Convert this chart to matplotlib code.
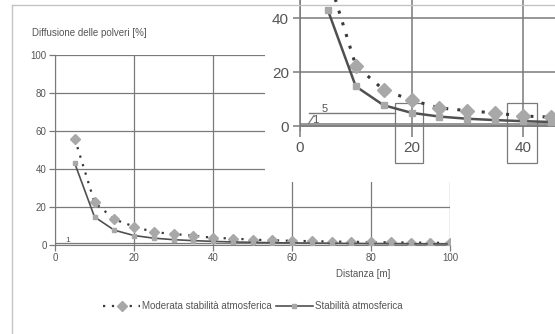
import matplotlib
matplotlib.use('Agg')
import matplotlib.pyplot as plt
from matplotlib.lines import Line2D
from matplotlib.patches import Rectangle
import numpy as np

plt.rcParams['font.family'] = ['Liberation Sans', 'DejaVu Sans']

# Data
distanza = [5, 10, 15, 20, 25, 30, 35, 40, 45, 50, 55, 60, 65, 70, 75, 80, 85, 90, 95, 100]
moderata = [56, 22.5, 13.5, 9.7, 6.8, 5.8, 4.9, 3.8, 3.4, 2.8, 2.5, 2.2, 2.0, 1.8, 1.7, 1.5, 1.4, 1.3, 1.2, 1.1]
stabile = [43, 14.8, 7.8, 5.0, 3.6, 2.8, 2.3, 1.9, 1.6, 1.4, 1.2, 1.1, 1.0, 0.9, 0.8, 0.75, 0.7, 0.65, 0.6, 0.55]
main_xticks = [0, 20, 40, 60, 80, 100]
main_yticks = [0, 20, 40, 60, 80, 100]
inset_ticks = [0, 20, 40]
soglie = [1, 5]

W, H = 555, 334
grid_c = '#7a7a7a'
text_c = '#555555'
dot_c = '#3a3a3a'
mark_c = '#a8a8a8'
line_c = '#505050'

fig = plt.figure(figsize=(W / 100, H / 100), dpi=100)
fig.patch.set_facecolor('white')

def box(x0, y0, x1, y1):
    # pixel box -> figure fraction
    return [x0 / W, 1 - y1 / H, (x1 - x0) / W, (y1 - y0) / H]

# ---- main chart
ax = fig.add_axes(box(55, 55, 450, 245))
ax.set_xlim(0, 100)
ax.set_ylim(0, 100)
ax.set_xticks(main_xticks)
ax.set_yticks(main_yticks)
ax.grid(True, color=grid_c, lw=0.9)
for s in ['top', 'right']:
    ax.spines[s].set_visible(False)
for s in ['left', 'bottom']:
    ax.spines[s].set_color(grid_c)
ax.tick_params(direction='out', length=4, width=0.9, color=grid_c, labelsize=7, labelcolor=text_c, pad=2)
ax.axhline(1, color=grid_c, lw=0.9)
ax.text(2.5, 1.8, '1', fontsize=6, color=text_c)
ax.plot(distanza, moderata, ls=(0, (1, 3)), lw=1.6, color=dot_c, marker='D', ms=5, mfc=mark_c, mec=mark_c, zorder=3)
ax.plot(distanza, stabile, ls='-', lw=1.2, color=line_c, marker='s', ms=3.5, mfc=mark_c, mec=mark_c, zorder=3)
ax.text(0.78, -0.155, 'Distanza [m]', transform=ax.transAxes, ha='center', va='center', fontsize=7, color=text_c)
fig.text(32 / W, 1 - 33 / H, 'Diffusione delle polveri [%]', fontsize=7, color=text_c, va='center')

# legend
handles = [
    Line2D([], [], ls=(0, (1, 3)), lw=1.6, color=dot_c, marker='D', ms=5, mfc=mark_c, mec=mark_c),
    Line2D([], [], ls='-', lw=1.2, color=line_c, marker='s', ms=3.5, mfc=mark_c, mec=mark_c),
]
fig.legend(handles, ['Moderata stabilità atmosferica', 'Stabilità atmosferica'],
           loc='center', bbox_to_anchor=(253 / W, 1 - 306 / H), ncol=2, frameon=False,
           fontsize=7, labelcolor=text_c, handlelength=3.8, handletextpad=0.2, columnspacing=0.4)

# ---- white cover behind the inset
bg = fig.add_axes(box(265, 0, 555, 182))
bg.set_facecolor('white')
bg.axis('off')
bg.add_patch(Rectangle((0, 0), 1, 1, transform=bg.transAxes, color='white'))

# ---- inset (zoom on first 45 m)
ins = fig.add_axes(box(300, 0, 555, 130))
px_x = 223 / 40.0
px_y = 54 / 20.0
ins.set_xlim(0, 255 / px_x)
ins.set_ylim(-(130 - 126.3) / px_y, 126.3 / px_y)
ins.set_facecolor('white')
ins.set_xticks(inset_ticks)
ins.set_yticks(inset_ticks)
ins.grid(True, color=grid_c, lw=1.1)
for s in ['top', 'right', 'bottom']:
    ins.spines[s].set_visible(False)
ins.spines['left'].set_color(grid_c)
ins.spines['left'].set_linewidth(1.1)
ins.tick_params(direction='out', length=5, width=1.1, color=grid_c, labelsize=11, labelcolor=text_c, pad=3)
ins.axhline(0, color=grid_c, lw=1.1)
ins.axhline(soglie[0], color=grid_c, lw=1.1)
ins.plot([1.6, 17], [soglie[1], soglie[1]], color=grid_c, lw=1.0)
ins.plot([1.6, 2.5], [1.2, 4.0], color=grid_c, lw=0.9)
ins.text(2.1, 1.4, '1', fontsize=8, color=text_c)
ins.text(3.9, 5.3, '5', fontsize=8, color=text_c)
ins.plot(distanza, moderata, ls=(0, (1, 3)), lw=2.2, color=dot_c, marker='D', ms=7, mfc=mark_c, mec=mark_c, zorder=3, clip_on=True)
ins.plot(distanza, stabile, ls='-', lw=1.8, color=line_c, marker='s', ms=5, mfc=mark_c, mec=mark_c, zorder=3, clip_on=True)
for x0, x1 in [(17.0, 22.1), (37.1, 42.5)]:
    ins.add_patch(Rectangle((x0, -13.6), x1 - x0, 8.6 + 13.6, fill=False, ec=grid_c, lw=0.9, clip_on=False))

# ---- outer frame
fig.add_artist(Line2D([12 / W, 12 / W], [0, 1 - 5 / H], color='#c4c4c4', lw=1.0))
fig.add_artist(Line2D([12 / W, 1], [1 - 5 / H, 1 - 5 / H], color='#c4c4c4', lw=1.0))

fig.savefig('out.png', dpi=100, facecolor='white')
